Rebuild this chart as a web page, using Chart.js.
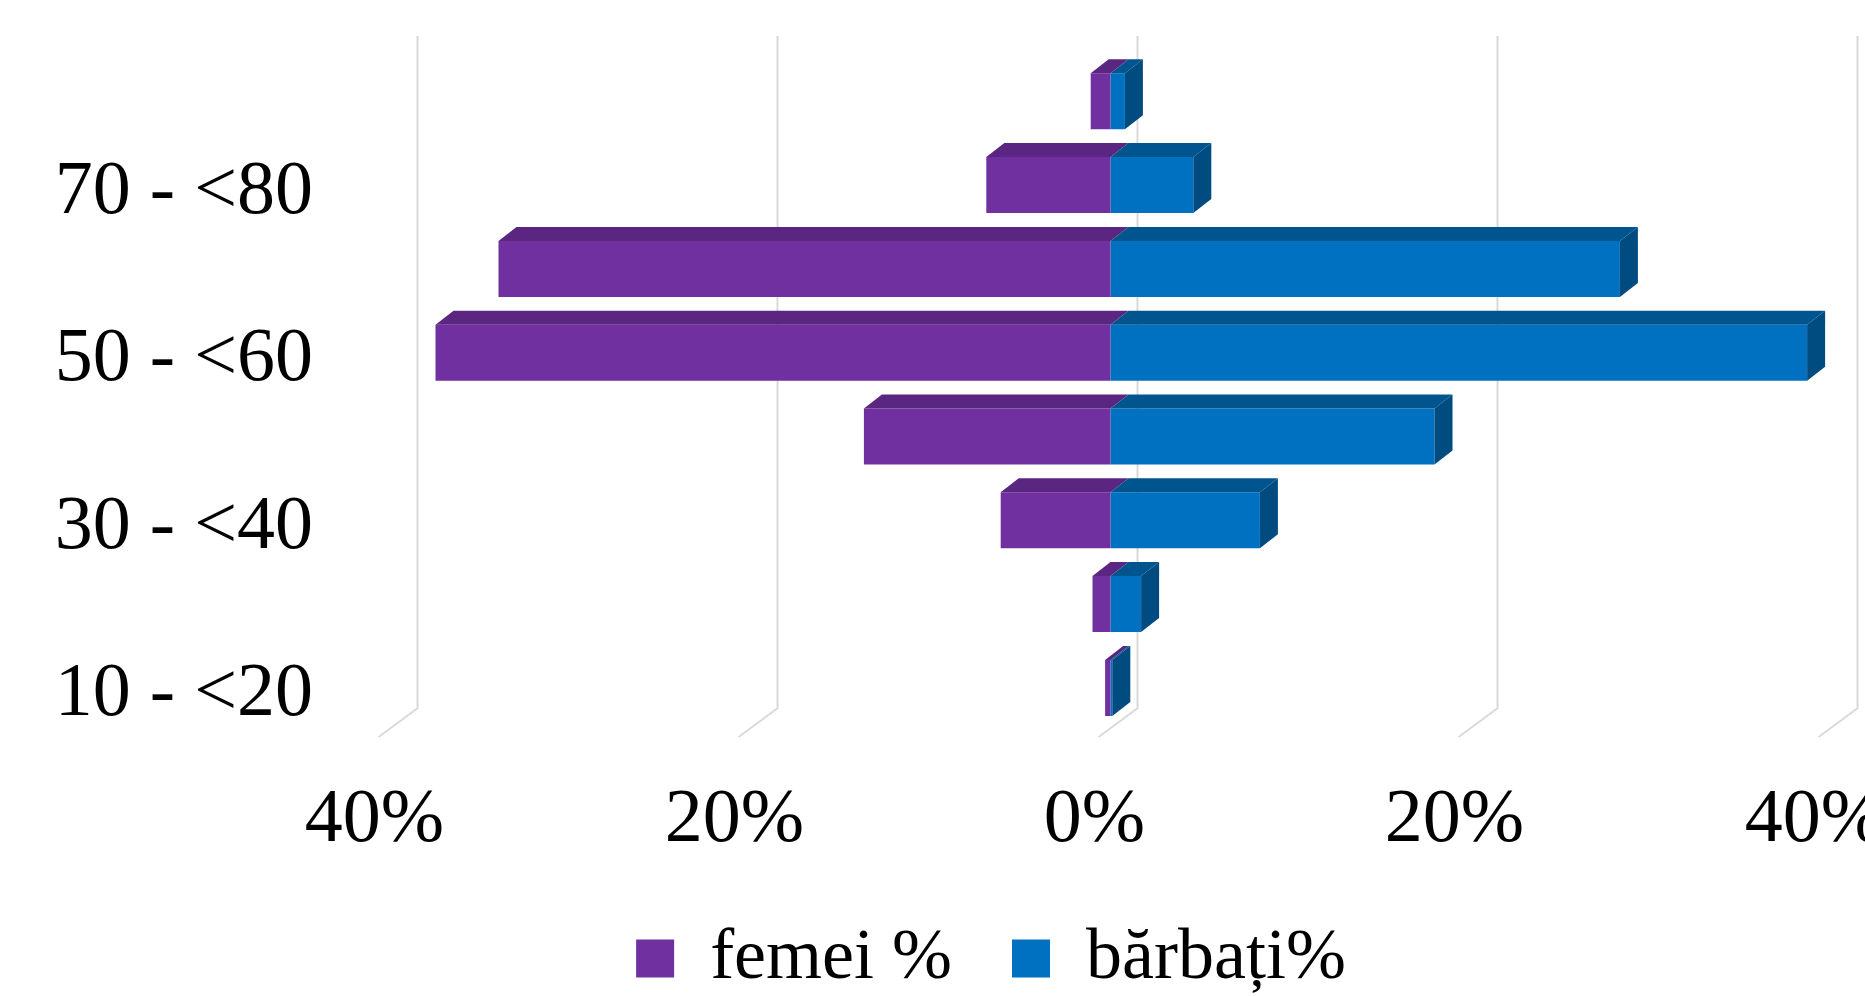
<!DOCTYPE html>
<html><head><meta charset="utf-8">
<script src="https://cdn.jsdelivr.net/npm/chart.js@4.4.0/dist/chart.umd.min.js"></script>
<style>html,body{margin:0;padding:0;background:#fff;} #wrap{width:1865px;height:996px;position:relative;}</style>
</head><body><div id="wrap"><canvas id="c"></canvas></div>
<script>
// ---- data ----
const categories = ["10 - <20","20 - <30","30 - <40","40 - <50","50 - <60","60 - <70","70 - <80","80 - <90"];
const femei   = [0.3, 1.0, 6.1, 13.7, 37.5, 34.0, 6.9, 1.1];
const barbati = [0.1, 1.7, 8.3, 18.0, 38.7, 28.3, 4.6, 0.8];
const xTickValues = [-40, -20, 0, 20, 40];
const seriesNames = ["femei %", "bărbați%"];

// ---- styles ----
const FONT = "'Liberation Serif', 'Times New Roman', serif";
const D = {dx: 18, dy: -14};
const LEGEND_SHIFT = 75.75;

const bar3d = {
  id: 'bar3d',
  afterLayout(chart) {
    if (chart.legend) {
      chart.legend.left += LEGEND_SHIFT;
      chart.legend.right += LEGEND_SHIFT;
    }
  },
  beforeDatasetsDraw(chart) {
    const ctx = chart.ctx, xs = chart.scales.x, ca = chart.chartArea;
    ctx.save();
    ctx.strokeStyle = '#d9d9d9';
    ctx.lineWidth = 2;
    xs.ticks.forEach(t => {
      const x = xs.getPixelForValue(t.value) + 27;
      ctx.beginPath();
      ctx.moveTo(x, ca.top - 23.4);
      ctx.lineTo(x, ca.bottom - 21.5);
      ctx.lineTo(x - 39, ca.bottom + 7.2);
      ctx.stroke();
    });
    ctx.restore();
  },
  afterDatasetsDraw(chart) {
    const ctx = chart.ctx;
    ctx.save();
    chart.data.datasets.forEach((ds, di) => {
      const meta = chart.getDatasetMeta(di);
      meta.data.forEach(el => {
        const p = el.getProps(['x', 'y', 'base', 'height'], true);
        const l = Math.min(p.x, p.base), r = Math.max(p.x, p.base);
        const t = p.y - p.height / 2, b = p.y + p.height / 2;
        ctx.fillStyle = ds.topColor;
        ctx.beginPath();
        ctx.moveTo(l, t); ctx.lineTo(l + D.dx, t + D.dy);
        ctx.lineTo(r + D.dx, t + D.dy); ctx.lineTo(r, t);
        ctx.closePath(); ctx.fill();
        if (p.x >= p.base) {
          ctx.fillStyle = ds.sideColor;
          ctx.beginPath();
          ctx.moveTo(r, t); ctx.lineTo(r + D.dx, t + D.dy);
          ctx.lineTo(r + D.dx, b + D.dy); ctx.lineTo(r, b);
          ctx.closePath(); ctx.fill();
        }
      });
    });
    ctx.restore();
  }
};

new Chart(document.getElementById('c'), {
  type: 'bar',
  data: {
    labels: categories,
    datasets: [
      { label: seriesNames[0], data: femei.map(v => -v), backgroundColor: '#7030a0',
        topColor: '#5a2682', sideColor: '#4e2070', borderWidth: 0,
        barPercentage: 0.668, categoryPercentage: 1 },
      { label: seriesNames[1], data: barbati, backgroundColor: '#0070c0',
        topColor: '#00558f', sideColor: '#004b80', borderWidth: 0,
        barPercentage: 0.668, categoryPercentage: 1 }
    ]
  },
  options: {
    indexAxis: 'y',
    responsive: true,
    maintainAspectRatio: false,
    animation: false,
    layout: { padding: { top: 59.4, left: 0, right: 34.5, bottom: -8.6 } },
    scales: {
      x: {
        stacked: true, min: -40, max: 40,
        grid: { display: false, drawTicks: false }, border: { display: false },
        afterBuildTicks: s => { s.ticks = xTickValues.map(v => ({ value: v })); },
        afterFit: s => { s.paddingLeft = 0; s.paddingRight = 0; s.height = 132.8; },
        ticks: {
          color: '#000', font: { family: FONT, size: 76 }, padding: 45.6,
          labelOffset: -16, maxRotation: 0, autoSkip: false,
          callback: v => Math.abs(v) + '%'
        }
      },
      y: {
        stacked: true, reverse: true,
        grid: { display: false, drawTicks: false }, border: { display: false },
        afterFit: s => { s.width = 390.5; s.paddingTop = 0; s.paddingBottom = 0; },
        ticks: {
          color: '#000', font: { family: FONT, size: 76 }, padding: 77.5,
          labelOffset: 7.5, autoSkip: false,
          callback: (v, i) => (i % 2 === 0 ? categories[i] : '')
        }
      }
    },
    plugins: {
      tooltip: { enabled: false },
      legend: {
        position: 'bottom',
        labels: { color: '#000', font: { family: FONT, size: 72 }, boxWidth: 38, boxHeight: 38, padding: 60 }
      }
    }
  },
  plugins: [bar3d]
});
</script>
</body></html>
